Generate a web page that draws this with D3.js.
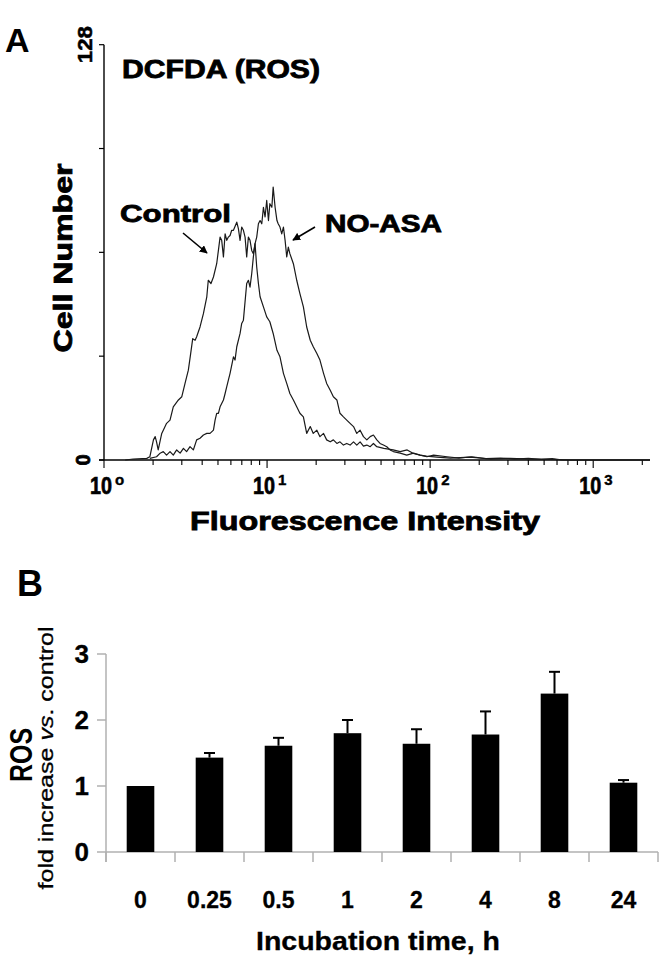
<!DOCTYPE html>
<html><head><meta charset="utf-8">
<script src="https://cdn.jsdelivr.net/npm/d3@7"></script>
<style>html,body{margin:0;padding:0;background:#fff;}svg{display:block;}</style>
</head><body>
<svg id="chart" width="666" height="970"></svg>
<script>
// ---------- Panel A data: flow cytometry histograms (fluorescence, cell count) ----------
const ctrlFluor = [1.35,1.51,1.83,1.91,2.01,2.06,2.10,2.15,2.26,2.31,2.42,2.54,2.66,2.86,3.00,3.14,3.29,3.40,3.50,3.62,3.70,3.88,4.07,4.27,4.36,4.53,4.69,4.91,5.03,5.15,5.27,5.40,5.53,5.66,5.79,5.93,6.07,6.22,6.52,6.67,6.83,6.99,7.16,7.33,7.50,7.68,7.86,8.05,8.24,8.44,8.64,8.85,9.06,9.50,9.95,10.4,10.9,11.5,12.0,12.6,13.2,13.8,14.5,15.2,15.9,16.7,17.5,18.4,19.2,20.2,21.1,22.2,23.2,24.4,25.5,26.8,28.0,29.4,30.8,32.3,33.9,35.5,37.2,39.0,40.9,42.9,44.9,47.1,52,59.3,65.5,72.3,79,86.8,95,110,133,176,233,310,410,545,722,1000,2230];
const ctrlCount = [0,0.3,0.5,1.0,6.2,7.2,5.6,3.1,8.2,9.2,11.3,12.3,16.4,18.5,19.5,23.6,27.7,32.8,37.4,36.9,38.0,41.0,45.1,50.3,55.4,54.4,56.4,60.5,64.6,68.7,67.7,62.6,69.7,67.7,68.7,69.2,70.8,70.8,73.3,71.3,67.7,71.8,70.8,68.7,62.6,68.7,67.7,64.6,63.6,66.7,59.5,54.4,50.3,47.2,44.1,42.6,39.0,33.8,31.8,26.7,23.6,20.5,18.5,16.4,14.4,13.3,8.2,10.3,8.2,9.2,7.2,8.2,6.2,5.6,6.2,5.1,5.6,4.6,5.1,4.6,5.6,4.6,5.6,4.3,4.6,4.1,5.1,4.1,3.6,3.1,2.6,3.1,2.0,1.5,1.2,0.9,0.6,0.9,0.3,0.5,0.3,0.2,0,0,0];
const noasaFluor = [1.91,2.10,2.21,2.31,2.42,2.54,2.66,2.79,2.93,3.07,3.21,3.37,3.53,3.70,3.88,4.07,4.27,4.47,4.69,4.80,4.91,5.03,5.15,5.40,5.53,5.66,5.79,5.93,6.22,6.36,6.52,6.83,6.99,7.16,7.50,7.68,7.86,8.05,8.24,8.44,8.64,8.85,9.06,9.28,9.50,9.72,9.95,10.2,10.4,10.7,10.9,11.2,11.5,11.7,12.0,12.3,12.6,12.9,13.2,13.5,13.8,14.5,15.2,15.9,16.7,17.5,18.4,19.2,20.2,21.1,22.2,23.2,24.4,25.5,26.8,28.0,29.4,30.8,32.3,33.9,35.5,37.2,39.0,40.9,42.9,44.9,47.1,49.3,51.7,54.2,56.8,59.5,65.5,71.9,79.1,86.9,95.5,105,127,150,180,220,270,330,400,480,560,650,1000,2230];
const noasaCount = [0.5,1.0,2.1,2.6,1.5,2.6,1.5,3.1,2.1,3.6,2.6,4.1,3.1,6.2,6.7,7.7,8.2,8.2,9.2,12.3,14.4,14.4,16.4,18.5,20.5,22.6,24.6,26.7,31.8,30.8,34.9,39.0,42.1,43.1,54.4,55.4,53.3,57.4,62.6,66.7,68.7,72.8,73.8,72.8,77.9,74.9,80.0,73.8,79.0,77.9,84.1,77.9,73.8,72.8,71.8,69.7,71.8,67.7,62.6,65.6,63.6,60.5,55.4,51.3,47.2,41.0,36.9,34.9,32.8,30.8,26.7,23.6,21.5,19.5,18.5,14.4,13.3,12.3,11.3,10.3,8.2,9.2,7.2,6.2,7.2,7.7,6.2,5.1,4.6,4.1,3.1,2.6,2.1,1.5,2.1,1.5,1.0,1.5,1.0,0.6,1.0,0.4,0.6,0.3,0.5,0.2,0.4,0,0,0];
const histYTicks = [0,32,64,96,128];
const histYTickLabels = ["0","128"];
const histDecades = [1,10,100,1000];
const histDecadeExp = ["o","1","2","3"];
const histXMax = 2230;

// ---------- Panel B data: ROS fold increase ----------
const timeLabels = ["0","0.25","0.5","1","2","4","8","24"];
const rosMean = [1.00,1.43,1.61,1.80,1.64,1.78,2.40,1.05];
const rosErr  = [0,0.07,0.12,0.20,0.22,0.35,0.33,0.04];
const rosTicks = [0,1,2,3];

const svg = d3.select("#chart");
const FONT = "'Liberation Sans', Arial, sans-serif";

// ================= PANEL A =================
const xA = d3.scaleLog().domain([1, histXMax]).range([104, 650]);
const yA = d3.scaleLinear().domain([0, 128]).range([460, 44.7]);
const gA = svg.append("g");

gA.append("line").attr("x1", xA(1)).attr("x2", xA(1)).attr("y1", yA(0)).attr("y2", yA(128))
  .attr("stroke", "#000").attr("stroke-width", 1.4);
gA.append("line").attr("x1", xA(1) - 5).attr("x2", xA(histXMax)).attr("y1", yA(0)).attr("y2", yA(0))
  .attr("stroke", "#000").attr("stroke-width", 1.4);
gA.selectAll(".yt").data(histYTicks).join("line")
  .attr("x1", xA(1) - 5).attr("x2", xA(1)).attr("y1", d => yA(d)).attr("y2", d => yA(d))
  .attr("stroke", "#000").attr("stroke-width", 1.2);

const minor = [];
histDecades.forEach(dv => { for (let m = 1; m <= 9; m++) { const v = dv * m; if (v <= histXMax) minor.push(v); } });
gA.selectAll(".xt").data(minor).join("line")
  .attr("x1", d => xA(d)).attr("x2", d => xA(d))
  .attr("y1", yA(0)).attr("y2", d => yA(0) + (histDecades.includes(d) ? 8 : 5))
  .attr("stroke", "#000").attr("stroke-width", 1.1);

histDecades.forEach((dv, i) => {
  const t = gA.append("text").attr("x", xA(dv) - 14).attr("y", 494)
    .attr("font-family", FONT).attr("font-weight", "bold").attr("font-size", 24)
    .attr("stroke", "#000").attr("stroke-width", 0.7).attr("text-anchor", "start");
  t.append("tspan").text("10").attr("textLength", 22).attr("lengthAdjust", "spacingAndGlyphs");
  t.append("tspan").text(histDecadeExp[i]).attr("dx", 3).attr("dy", -9).attr("font-size", 15).attr("stroke-width", 0.4);
});

gA.append("text").attr("transform", `translate(92,${yA(128)}) rotate(-90)`)
  .attr("text-anchor", "middle").attr("font-family", FONT).attr("font-weight", "bold")
  .attr("font-size", 20).attr("stroke", "#000").attr("stroke-width", 0.5)
  .attr("textLength", 37).attr("lengthAdjust", "spacingAndGlyphs").text(histYTickLabels[1]);
gA.append("text").attr("transform", `translate(90,${yA(0)}) rotate(-90)`)
  .attr("text-anchor", "middle").attr("font-family", FONT).attr("font-weight", "bold")
  .attr("font-size", 20).attr("stroke", "#000").attr("stroke-width", 0.8).text(histYTickLabels[0]);

const lineA = d3.line().x(d => xA(d[0])).y(d => yA(d[1]));
gA.append("path").datum(d3.zip(ctrlFluor, ctrlCount)).attr("d", lineA)
  .attr("fill", "none").attr("stroke", "#1a1a1a").attr("stroke-width", 1.2).attr("stroke-linejoin", "round");
gA.append("path").datum(d3.zip(noasaFluor, noasaCount)).attr("d", lineA)
  .attr("fill", "none").attr("stroke", "#1a1a1a").attr("stroke-width", 1.2).attr("stroke-linejoin", "round");

svg.append("defs").append("marker").attr("id", "arr").attr("viewBox", "0 0 10 10")
  .attr("refX", 9).attr("refY", 5).attr("markerWidth", 5).attr("markerHeight", 5)
  .attr("orient", "auto-start-reverse").append("path").attr("d", "M0,0 L10,5 L0,10 z").attr("fill", "#000");
gA.append("line").attr("x1", 183).attr("y1", 233).attr("x2", 207).attr("y2", 253)
  .attr("stroke", "#000").attr("stroke-width", 1.6).attr("marker-end", "url(#arr)");
gA.append("line").attr("x1", 315).attr("y1", 227).attr("x2", 293).attr("y2", 240)
  .attr("stroke", "#000").attr("stroke-width", 1.6).attr("marker-end", "url(#arr)");

function heavy(g, x, y, txt, size, len, anchor, rot) {
  const t = g.append("text").attr("font-family", FONT).attr("font-weight", "bold")
    .attr("font-size", size).attr("stroke", "#000").attr("stroke-width", 0.8)
    .attr("text-anchor", anchor || "start").text(txt);
  if (rot) t.attr("transform", `translate(${x},${y}) rotate(-90)`); else t.attr("x", x).attr("y", y);
  if (len) t.attr("textLength", len).attr("lengthAdjust", "spacingAndGlyphs");
  return t;
}
svg.append("text").attr("x", 5).attr("y", 52).attr("font-family", FONT).attr("font-weight", "bold")
  .attr("font-size", 34).text("A");
heavy(gA, 122, 78, "DCFDA (ROS)", 25, 198);
heavy(gA, 120, 222, "Control", 24, 111);
heavy(gA, 325, 232, "NO-ASA", 24, 117);
heavy(gA, 72, 258, "Cell Number", 26, 189, "middle", true);
heavy(gA, 365, 530, "Fluorescence Intensity", 25, 350, "middle");

// ================= PANEL B =================
const xB = d3.scaleBand().domain(timeLabels).range([106, 658]).paddingInner(0.6).paddingOuter(0.3);
const yB = d3.scaleLinear().domain([0, 3]).range([852, 654]);
const gB = svg.append("g");
const bounds = d3.range(timeLabels.length + 1).map(i => 106 + i * (552 / timeLabels.length));

gB.append("line").attr("x1", 106).attr("x2", 106).attr("y1", yB(3)).attr("y2", yB(0) + 10)
  .attr("stroke", "#b0b0b0").attr("stroke-width", 1.5);
gB.append("line").attr("x1", 106).attr("x2", 658).attr("y1", yB(0)).attr("y2", yB(0))
  .attr("stroke", "#b0b0b0").attr("stroke-width", 1.5);
gB.selectAll(".ytb").data(rosTicks).join("line")
  .attr("x1", 97).attr("x2", 106).attr("y1", d => yB(d)).attr("y2", d => yB(d))
  .attr("stroke", "#b0b0b0").attr("stroke-width", 1.5);
gB.selectAll(".xtb").data(bounds).join("line")
  .attr("x1", d => d).attr("x2", d => d).attr("y1", yB(0)).attr("y2", yB(0) + 10)
  .attr("stroke", "#b0b0b0").attr("stroke-width", 1.5);

gB.selectAll(".bar").data(rosMean).join("rect")
  .attr("x", (d, i) => xB(timeLabels[i])).attr("width", xB.bandwidth())
  .attr("y", d => yB(d)).attr("height", d => yB(0) - yB(d)).attr("fill", "#000");

const eb = rosMean.map((m, i) => ({ m, e: rosErr[i], c: xB(timeLabels[i]) + xB.bandwidth() / 2 })).filter(d => d.e > 0);
gB.selectAll(".ev").data(eb).join("line")
  .attr("x1", d => d.c).attr("x2", d => d.c).attr("y1", d => yB(d.m)).attr("y2", d => yB(d.m + d.e))
  .attr("stroke", "#000").attr("stroke-width", 2);
gB.selectAll(".ec").data(eb).join("line")
  .attr("x1", d => d.c - 5.5).attr("x2", d => d.c + 5.5).attr("y1", d => yB(d.m + d.e)).attr("y2", d => yB(d.m + d.e))
  .attr("stroke", "#000").attr("stroke-width", 2);

gB.selectAll(".ytl").data(rosTicks).join("text")
  .attr("x", 89).attr("y", d => yB(d) + 9).attr("text-anchor", "end")
  .attr("font-family", FONT).attr("font-weight", "bold").attr("font-size", 26)
  .attr("stroke", "#000").attr("stroke-width", 0.3).text(d => d);
gB.selectAll(".xtl").data(timeLabels).join("text")
  .attr("x", d => xB(d) + xB.bandwidth() / 2).attr("y", 908).attr("text-anchor", "middle")
  .attr("font-family", FONT).attr("font-weight", "bold").attr("font-size", 23)
  .attr("stroke", "#000").attr("stroke-width", 0.3).text(d => d);

svg.append("text").attr("x", 17).attr("y", 596).attr("font-family", FONT).attr("font-weight", "bold")
  .attr("font-size", 36).text("B");
gB.append("text").attr("transform", "translate(32,755) rotate(-90)").attr("text-anchor", "middle")
  .attr("font-family", FONT).attr("font-weight", "bold").attr("font-size", 32)
  .attr("textLength", 54).attr("lengthAdjust", "spacingAndGlyphs").text("ROS");
const fl = gB.append("text").attr("transform", "translate(53,758) rotate(-90)").attr("text-anchor", "middle")
  .attr("font-family", FONT).attr("font-size", 20).attr("stroke", "#000").attr("stroke-width", 0.3)
  .attr("textLength", 263).attr("lengthAdjust", "spacingAndGlyphs");
fl.append("tspan").text("fold increase ");
fl.append("tspan").attr("font-style", "italic").text("vs");
fl.append("tspan").text(". control");
gB.append("text").attr("x", 378).attr("y", 950).attr("text-anchor", "middle")
  .attr("font-family", FONT).attr("font-weight", "bold").attr("font-size", 25)
  .attr("stroke", "#000").attr("stroke-width", 0.3)
  .attr("textLength", 244).attr("lengthAdjust", "spacingAndGlyphs").text("Incubation time, h");
</script>
</body></html>
